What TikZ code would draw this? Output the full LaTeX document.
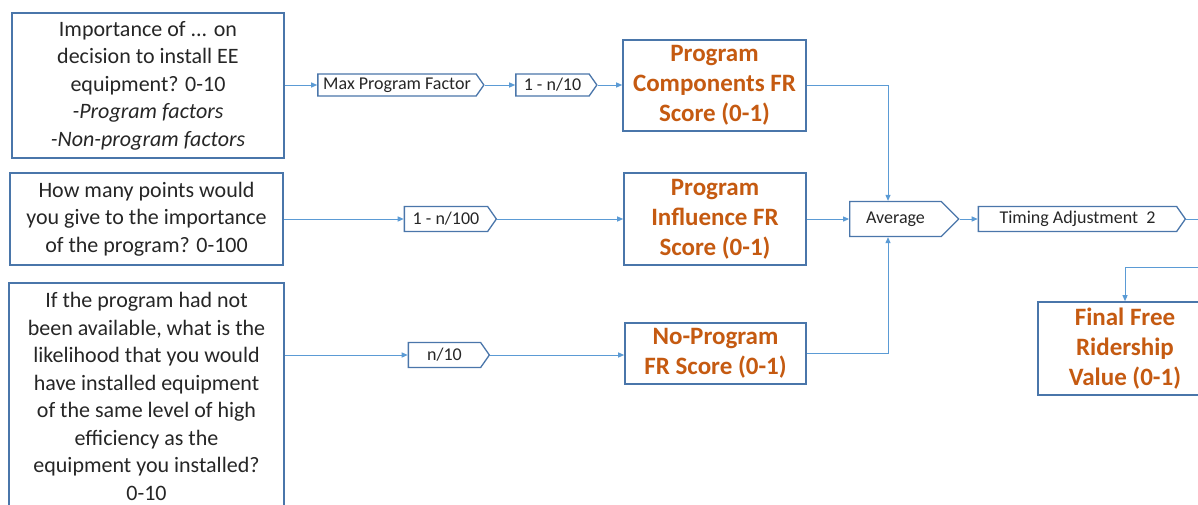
\documentclass[tikz,border=0pt]{standalone}
\usepackage{fontspec}
\setmainfont{Carlito}
\usetikzlibrary{arrows.meta,shapes.symbols}
\definecolor{boxblue}{RGB}{74,118,170}
\definecolor{lineblue}{RGB}{91,155,213}
\definecolor{frorange}{RGB}{197,90,17}
\definecolor{txt}{RGB}{38,38,38}
\begin{document}
\begin{tikzpicture}[x=1pt,y=-1pt,
  qbox/.style={draw=boxblue, line width=1.6pt, fill=white, inner sep=0pt, align=center, text=txt, font=\fontsize{22}{27.5}\selectfont},
  frbox/.style={draw=boxblue, line width=1.6pt, fill=white, inner sep=0pt, align=center, text=frorange, font=\bfseries\fontsize{25}{30}\selectfont},
  tag/.style={signal, signal to=east, signal pointer angle=110, draw=boxblue, line width=1.3pt, fill=white, inner sep=0pt, text=txt, font=\fontsize{18}{20}\selectfont},
  conn/.style={draw=lineblue, line width=1pt, -{Triangle[length=6pt,width=5pt]}},
  plain/.style={draw=lineblue, line width=1pt}]
\fill[white] (0,0) rectangle (1198,504);
\useasboundingbox (0,0) rectangle (1198,504);

% question boxes
\node[qbox, minimum width=272pt, minimum height=145pt] (B1) at (148,85.5)
  {Importance of ... on\\decision to install EE\\equipment? 0-10\\\textit{-Program factors}\\\textit{-Non-program factors}};
\node[qbox, minimum width=273pt, minimum height=92pt] (B2) at (146.5,219)
  {How many points would\\you give to the importance\\of the program? 0-100};
\node[qbox, minimum width=275pt, minimum height=227pt] (B3) at (146.5,396.5)
  {If the program had not\\been available, what is the\\likelihood that you would\\have installed equipment\\of the same level of high\\efficiency as the\\equipment you installed?\\0-10};

% tags
\node[tag, minimum width=166pt, minimum height=22pt] (MPF) at (397,85) {Max Program Factor};
\node[tag, minimum width=81pt, minimum height=22pt] (T1) at (552.5,85) {1 - n/10};
\node[tag, minimum width=92pt, minimum height=25pt] (T2) at (446,219) {1 - n/100};
\node[tag, minimum width=81pt, minimum height=25pt] (T3) at (444.5,355) {n/10};
\node[tag, signal pointer angle=90, minimum width=109pt, minimum height=35pt] (Avg) at (895.5,219) {Average};
\node[tag, minimum width=207pt, minimum height=25pt] (Tim) at (1077.5,219) {Timing Adjustment~~2};

% FR score boxes
\node[frbox, minimum width=183pt, minimum height=91pt] (PC) at (714.5,85.5) {Program\\Components FR\\Score (0-1)};
\node[frbox, minimum width=182pt, minimum height=92pt] (PI) at (715,219) {Program\\Influence FR\\Score (0-1)};
\node[frbox, minimum width=181pt, minimum height=61pt] (NP) at (715.5,353.5) {No-Program\\FR Score (0-1)};
\node[frbox, minimum width=174pt, minimum height=93pt] (FF) at (1125,348.5) {Final Free\\Ridership\\Value (0-1)};

\coordinate (edgeA) at (1198,219);
\coordinate (edgeB) at (1198,267);

% connectors
\draw[conn] (B1.east |- MPF.west) -- (MPF.west);
\draw[conn] (MPF.east) -- (T1.west);
\draw[conn] (T1.east) -- (PC.west |- T1.east);
\draw[conn] (B2.east |- T2.west) -- (T2.west);
\draw[conn] (T2.east) -- (PI.west |- T2.east);
\draw[conn] (B3.east |- T3.west) -- (T3.west);
\draw[conn] (T3.east) -- (NP.west |- T3.east);
\draw[conn] (PC.east) -| ([xshift=-7.5pt]Avg.north);
\draw[conn] (NP.east) -| ([xshift=-7.5pt]Avg.south);
\draw[conn] (PI.east) -- (Avg.west);
\draw[conn] (Avg.east) -- (Tim.west);
\draw[plain] (Tim.east) -- (edgeA);
\draw[conn] (edgeB) -| (FF.north);
\end{tikzpicture}
\end{document}
